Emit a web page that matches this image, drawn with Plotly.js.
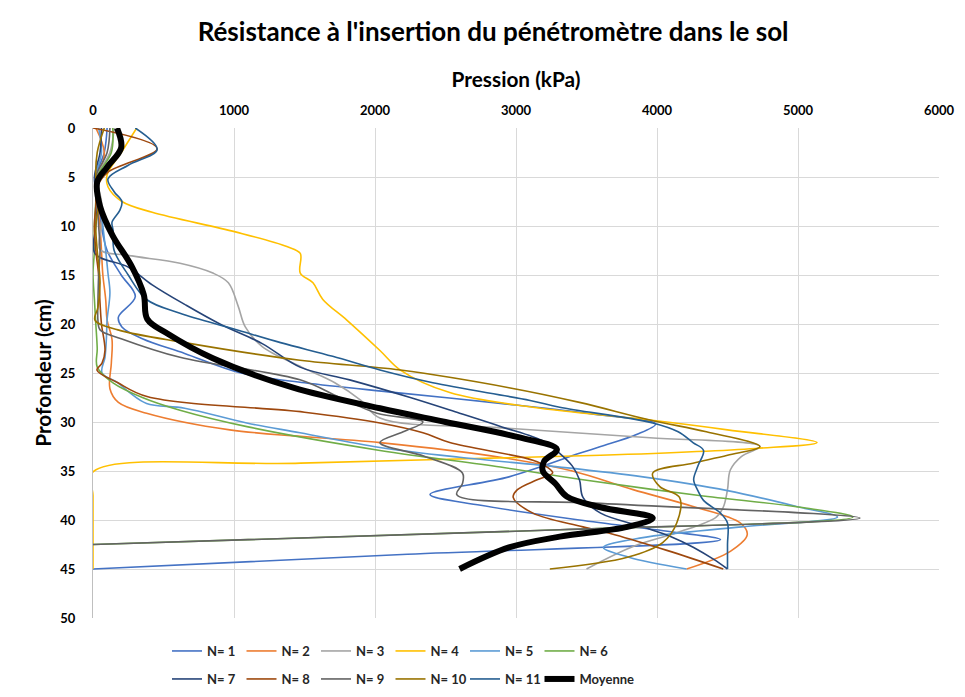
<!DOCTYPE html>
<html>
<head>
<meta charset="utf-8">
<script src="https://cdn.plot.ly/plotly-3.0.1.min.js"></script>
<style>html,body{margin:0;padding:0;background:#fff;}#chart{width:965px;height:697px;}</style>
</head>
<body>
<div id="chart"></div>
<script>
// Depth (cm) and pressure (kPa) for each probe
const d1 = [0, 2.5, 5, 7.5, 10, 12.5, 15, 17.2, 19.3, 20.3, 21.5, 23, 25, 26, 27, 28.1, 29.2, 30.2, 31.3, 32.5, 33.2, 35.6, 37.4, 38.5, 40, 41.2, 42, 43.5, 45];
const p1 = [100, 80, 20, 40, 60, 100, 200, 300, 180, 205, 350, 650, 1050, 1500, 2150, 2890, 3550, 3990, 3850, 3600, 3450, 2950, 2390, 2750, 3450, 4100, 4450, 2230, 0];

const d2 = [0, 2.5, 5, 7.5, 10, 12.5, 15, 17.5, 19.6, 21.6, 24, 26.6, 28, 29.1, 30.8, 32.1, 33.6, 35, 36.9, 38.6, 40.3, 41.5, 43.2, 45];
const p2 = [20, 80, 40, 30, 50, 60, 70, 90, 100, 135, 130, 120, 180, 380, 970, 2035, 2890, 3400, 3830, 4250, 4590, 4640, 4520, 4210];

const d3 = [0, 2.5, 5, 7.5, 10, 12.4, 13, 13.8, 14.8, 15.8, 18.2, 20.3, 22.3, 24.4, 26, 27.8, 29.6, 30.6, 31.6, 32.5, 33.5, 34.9, 36.9, 38.7, 39.7, 41.3, 42.7, 45];
const p3 = [150, 120, 30, 60, 60, 50, 250, 617, 850, 960, 1030, 1080, 1200, 1480, 1715, 1900, 2035, 2900, 3950, 4730, 4600, 4520, 4500, 4470, 4420, 4140, 3830, 3500];

const d4 = [0, 2.4, 4.8, 6, 7.5, 8.6, 10.6, 12.1, 12.8, 14.8, 15.8, 17.5, 19.6, 22.7, 24.7, 27, 28.5, 29.8, 30.8, 32.1, 32.7, 33.4, 34.2, 35.1, 37.5, 40, 42.5, 45];
const p4 = [310, 205, 100, 106, 205, 420, 1010, 1375, 1470, 1470, 1560, 1630, 1800, 2035, 2180, 2530, 3120, 3950, 4500, 5135, 4700, 3600, 1470, 0, 0, 0, 0, 0];

const d5 = [0, 2.5, 5, 7.5, 10, 12.5, 14.8, 16.8, 19.6, 21.5, 23.4, 25, 26, 27, 28.1, 28.6, 30.1, 31.1, 32.6, 33.6, 34.6, 35.6, 37, 38.7, 39.7, 40.7, 41.8, 42.8, 43.8, 45];
const p5 = [40, 60, 20, 50, 70, 90, 106, 120, 100, 95, 85, 64, 177, 260, 380, 650, 1090, 1468, 2035, 2600, 3310, 3900, 4500, 5014, 5280, 4600, 3900, 3620, 3800, 4210];

const d6 = [0, 2.5, 5, 7.5, 10, 12.5, 14.8, 17.5, 20, 22.5, 24.4, 26, 27.5, 28.8, 30.5, 32.9, 34.6, 35.9, 37.5, 38.7, 39.7, 41, 42.5];
const p6 = [140, 130, 30, 20, 10, 10, 0, 10, 20, 30, 30, 142, 350, 617, 1100, 2035, 2890, 3475, 4300, 5014, 5390, 3310, 0];

const d7 = [0, 2.5, 5, 7.5, 10, 12.8, 14.2, 16, 18, 20, 22, 24.4, 25.7, 27.5, 29.1, 30.5, 32, 33.2, 34.5, 35.9, 37.7, 39.3, 40.7, 41.7, 42.8, 44, 45];
const p7 = [60, 50, 10, 30, 20, 14, 250, 420, 650, 900, 1200, 1468, 1820, 2250, 2600, 2900, 3200, 3310, 3400, 3450, 3475, 3600, 3900, 4100, 4260, 4400, 4500];

const d8 = [0, 2.1, 4.5, 6, 8, 10, 12.5, 15, 17.9, 20, 22.7, 24, 24.7, 26, 27.4, 29, 30.1, 31.1, 32.1, 33.9, 34.6, 35.2, 35.9, 36.9, 37.7, 39.3, 40.7, 41.5, 43.1, 45];
const p8 = [0, 455, 106, 30, 20, 10, 20, 40, 50, 60, 85, 64, 28, 177, 383, 1500, 2035, 2340, 2530, 3120, 3220, 3260, 3150, 3010, 2980, 3120, 3475, 3700, 4070, 4470];

const d9 = [0, 2.5, 5, 7.5, 10, 12.5, 15, 17.9, 19.6, 20.6, 21.5, 23.4, 25.7, 27.5, 29.1, 30, 31, 32.1, 33.5, 35.2, 36.3, 37.4, 38.3, 39.8, 41, 42.5];
const p9 = [120, 100, 20, 30, 40, 50, 40, 35, 35, 50, 200, 617, 1468, 1750, 2014, 2340, 2200, 2035, 2350, 2620, 2620, 2580, 3600, 5440, 3310, 0];

const d10 = [0, 2.5, 5, 7.5, 10, 12.5, 15.8, 18.3, 19.6, 20.6, 21.9, 23.7, 24.7, 26.5, 28, 29.8, 31, 32.5, 33.4, 34.2, 35.2, 36.6, 37.7, 40.3, 42.3, 43.8, 45];
const p10 = [80, 30, 20, 40, 20, 30, 50, 35, 14, 177, 650, 1468, 2180, 2950, 3450, 3950, 4350, 4730, 4500, 4255, 3970, 4020, 4160, 4140, 4040, 3790, 3240];

const d11 = [0, 2.2, 3.8, 5.2, 6.5, 7.5, 8.4, 9.6, 10.4, 12.5, 15, 17.5, 18.9, 20.5, 21.9, 23.3, 24.7, 26, 27.8, 28.5, 30.1, 31, 32.1, 32.9, 34.5, 35.9, 37, 38, 39.3, 40.3, 42.5, 45];
const p11 = [300, 455, 250, 106, 150, 205, 190, 135, 142, 150, 250, 380, 617, 1000, 1330, 1700, 2035, 2410, 3100, 3310, 3970, 4150, 4255, 4330, 4290, 4260, 4290, 4330, 4450, 4500, 4500, 4500];

const dMoy = [0, 2, 4, 5.5, 8, 11, 14, 17, 19.5, 21, 23.5, 26.5, 28.6, 30, 31.5, 32.8, 34, 35, 36.3, 37.6, 38.7, 39.8, 40.7, 41.7, 42.8, 45];
const pMoy = [170, 200, 100, 30, 50, 140, 270, 360, 385, 530, 850, 1420, 2035, 2500, 3000, 3290, 3200, 3190, 3280, 3360, 3600, 3970, 3790, 3310, 2950, 2600];

const seriesNames = ["N= 1", "N= 2", "N= 3", "N= 4", "N= 5", "N= 6", "N= 7", "N= 8", "N= 9", "N= 10", "N= 11", "Moyenne"];
const depths = [d1, d2, d3, d4, d5, d6, d7, d8, d9, d10, d11, dMoy];
const pressures = [p1, p2, p3, p4, p5, p6, p7, p8, p9, p10, p11, pMoy];
const colors = ["#4472C4", "#ED7D31", "#A5A5A5", "#FFC000", "#5B9BD5", "#70AD47",
                "#264478", "#9E480E", "#636363", "#997300", "#255E91", "#000000"];

const FONT = "Lato, Roboto, sans-serif";

const traces = seriesNames.map((name, i) => ({
  type: "scatter",
  mode: "lines",
  name: name,
  x: pressures[i],
  y: depths[i],
  line: {color: colors[i], width: i === 11 ? 6 : 1.6, shape: "spline", smoothing: 1},
  legend: i < 6 ? "legend" : "legend2",
  legendwidth: i === 11 ? 70 : 29.5,
  hoverinfo: "x+y+name"
}));

const legendCommon = {
  orientation: "h",
  xref: "container", yref: "container",
  xanchor: "left", yanchor: "middle",
  bgcolor: "rgba(0,0,0,0)",
  font: {family: FONT, size: 13, color: "#262626", weight: "bold"},
  entrywidth: 29.5, entrywidthmode: "pixels",
  itemwidth: 30,
  traceorder: "normal"
};

const layout = {
  width: 965, height: 697,
  margin: {l: 93, r: 26, t: 128, b: 79},
  paper_bgcolor: "#ffffff", plot_bgcolor: "#ffffff",
  title: {
    text: "Résistance à l'insertion du pénétromètre dans le sol",
    font: {family: FONT, size: 26, color: "#000000", weight: "bold"},
    x: 0.511, xanchor: "center", xref: "container",
    y: 1 - 32/697, yanchor: "middle", yref: "container"
  },
  xaxis: {
    side: "top",
    range: [0, 6000], dtick: 1000, tick0: 0,
    showgrid: true, gridcolor: "#D9D9D9", gridwidth: 1,
    zeroline: false, showline: false, ticks: "",
    tickfont: {family: FONT, size: 13, color: "#000000", weight: "bold"},
    ticklabelstandoff: 9,
    title: {text: "Pression (kPa)", font: {family: FONT, size: 20.8, color: "#000000", weight: "bold"}, standoff: 9},
    fixedrange: true
  },
  yaxis: {
    range: [50, 0], dtick: 5, tick0: 0,
    showgrid: true, gridcolor: "#D9D9D9", gridwidth: 1,
    zeroline: false, showline: true, linecolor: "#BFBFBF", linewidth: 1, ticks: "",
    tickfont: {family: FONT, size: 13, color: "#000000", weight: "bold"},
    ticklabelstandoff: 14,
    title: {text: "Profondeur (cm)", font: {family: FONT, size: 20.8, color: "#000000", weight: "bold"}, standoff: 3},
    fixedrange: true
  },
  legend: Object.assign({x: 167/965, y: 1 - 651/697}, legendCommon),
  legend2: Object.assign({x: 167/965, y: 1 - 679/697}, legendCommon),
  showlegend: true
};

Plotly.newPlot("chart", traces, layout, {displayModeBar: false, staticPlot: true});
</script>
</body>
</html>
